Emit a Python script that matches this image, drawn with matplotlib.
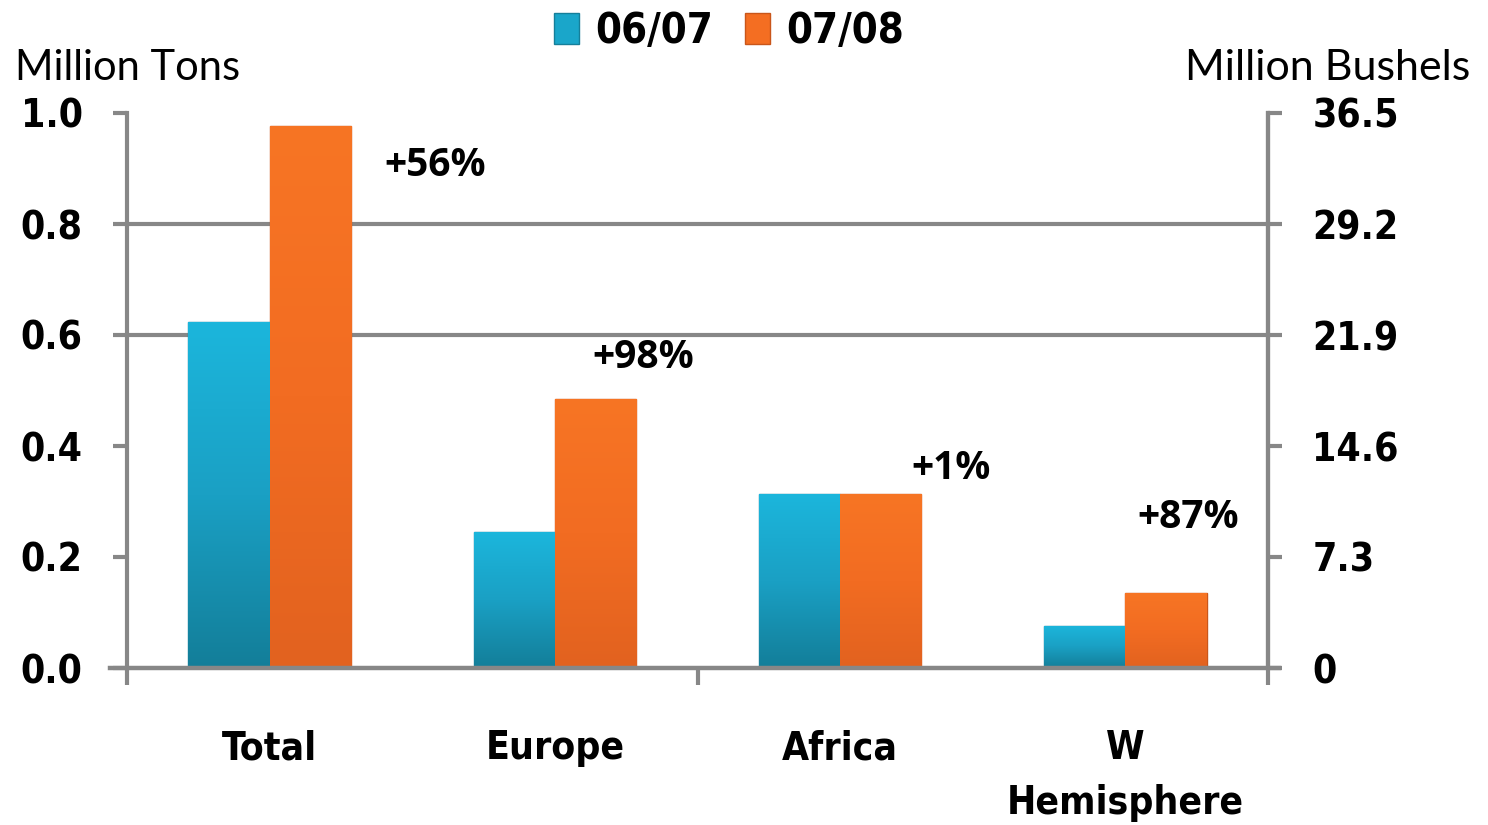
import matplotlib
matplotlib.use("Agg")
import matplotlib.pyplot as plt
import numpy as np
from matplotlib.colors import LinearSegmentedColormap

categories = ["Total", "Europe", "Africa", "W\nHemisphere"]
series_names = ["06/07", "07/08"]
vals_0607 = [0.623, 0.245, 0.313, 0.076]
vals_0708 = [0.977, 0.485, 0.313, 0.135]
pct_labels = ["+56%", "+98%", "+1%", "+87%"]
left_ticks = [0.0, 0.2, 0.4, 0.6, 0.8, 1.0]
right_ticks = [0, 7.3, 14.6, 21.9, 29.2, 36.5]
right_tick_labels = ["0", "7.3", "14.6", "21.9", "29.2", "36.5"]

GRAY = "#878787"
BLUE = "#1AA6CA"
ORANGE = "#F46E22"
TICKFONT = dict(family="DejaVu Sans", fontweight="bold", fontstretch="condensed")

fig = plt.figure(figsize=(14.88, 8.25), dpi=100)
ax = fig.add_axes([127/1488, 1-668/825, (1268-127)/1488, (668-113)/825])

x = np.arange(len(categories))
w = 0.285
b1 = ax.bar(x - w/2, vals_0607, w, color=BLUE, edgecolor="#157F9A", linewidth=1.0, zorder=3, label=series_names[0])
b2 = ax.bar(x + w/2, vals_0708, w, color=ORANGE, edgecolor="#C9561A", linewidth=1.0, zorder=3, label=series_names[1])

# gradient fill on the bars
blue_cmap = LinearSegmentedColormap.from_list("b", ["#137E99", "#1AA0C4", "#1CB6DC"])
orange_cmap = LinearSegmentedColormap.from_list("o", ["#E2621F", "#F26C22", "#F77524"])
grad = np.linspace(0, 1, 256).reshape(-1, 1)
for bars, cmap in ((b1, blue_cmap), (b2, orange_cmap)):
    for p in bars:
        x0, y0 = p.get_x(), p.get_y()
        x1, y1 = x0 + p.get_width(), y0 + p.get_height()
        im = ax.imshow(grad, cmap=cmap, aspect="auto", origin="lower",
                       extent=(x0, x1, y0, y1), zorder=3.5)
        im.set_clip_path(p)
ax.set_xlim(-0.5, 3.5)
ax.set_ylim(0, 1.0)

# gridlines (only 0.6 and 0.8 visible in reference)
for gy in [0.6, 0.8]:
    ax.axhline(gy, color=GRAY, lw=3, zorder=1)
ax.axhline(0, color=GRAY, lw=3.2, zorder=4, xmin=-0.015, xmax=1.01, clip_on=False)

ax.spines["top"].set_visible(False)
ax.spines["bottom"].set_visible(False)
for s in ["left", "right"]:
    ax.spines[s].set_color(GRAY)
    ax.spines[s].set_linewidth(3)

ax.set_yticks(left_ticks)
ax.set_yticklabels([f"{t:.1f}" for t in left_ticks])
ax.tick_params(axis="y", length=10, width=3, color=GRAY, pad=22, labelsize=28)
for lab in ax.get_yticklabels():
    lab.set(**TICKFONT)

ax.set_xticks([-0.5, 1.5, 3.5])
ax.set_xticklabels([])
ax.tick_params(axis="x", length=12, width=3, color=GRAY, direction="out")
for i, c in enumerate(categories):
    ax.text(i, -0.11, c, ha="center", va="top", fontsize=28, linespacing=1.55,
            transform=ax.transData, **TICKFONT)

ax2 = ax.twinx()
ax2.set_ylim(0, 36.5)
ax2.set_yticks(right_ticks)
ax2.set_yticklabels(right_tick_labels)
for s in ["top", "bottom", "left"]:
    ax2.spines[s].set_visible(False)
ax2.spines["right"].set_color(GRAY)
ax2.spines["right"].set_linewidth(3)
ax2.tick_params(axis="y", length=10, width=3, color=GRAY, pad=22, labelsize=28)
for lab in ax2.get_yticklabels():
    lab.set(**TICKFONT)

# percent annotations
offsets = [(0.58, 0.905), (1.31, 0.56), (2.39, 0.36), (3.22, 0.272)]
for lbl, (ox, oy) in zip(pct_labels, offsets):
    ax.text(ox, oy, lbl, ha="center", va="center", fontsize=28, fontweight="bold", family="Open Sans")

fig.text(15/1488, 1-68/825, "Million Tons", fontsize=30, family="Lato", va="center", ha="left")
fig.text(1470/1488, 1-68/825, "Million Bushels", fontsize=31, family="Lato", va="center", ha="right")

leg = fig.legend(handles=[b1, b2], labels=series_names, loc="center", bbox_to_anchor=(729/1488, 1-31/825),
                 ncol=2, frameon=False,
                 prop={"family": "DejaVu Sans", "weight": "bold", "stretch": "condensed", "size": 30},
                 handlelength=0.6, handleheight=0.75, handletextpad=0.4, columnspacing=0.75)

fig.savefig("out.png", dpi=100)
